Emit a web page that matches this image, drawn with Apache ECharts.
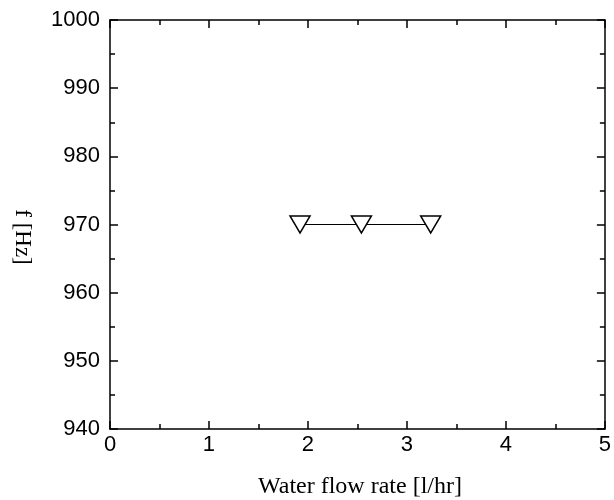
<!DOCTYPE html>
<html>
<head>
<meta charset="utf-8">
<script src="https://cdn.jsdelivr.net/npm/echarts@6/dist/echarts.min.js"></script>
<style>html,body{margin:0;padding:0;background:#fff;}#c{width:614px;height:500px;}</style>
</head>
<body>
<div id="c"></div>
<script>
var flowRate = [1.92, 2.54, 3.24];
var frequency = [970, 970, 970];
var xTitle = 'Water flow rate [l/hr]';
var yTitle = 'f [Hz]';

var chart = echarts.init(document.getElementById('c'), null, {renderer: 'canvas'});
var pts = flowRate.map(function (x, i) { return [x, frequency[i]]; });
var axisCommon = {
  axisLine: {show: true, onZero: false, lineStyle: {color: '#000', width: 1.5}},
  axisTick: {show: true, inside: true, length: 8, lineStyle: {color: '#000', width: 1.5}},
  minorTick: {show: true, splitNumber: 2, length: 5, lineStyle: {color: '#000', width: 1.5}},
  splitLine: {show: false}
};
chart.setOption({
  animation: false,
  backgroundColor: '#fff',
  grid: {left: 110, right: 4, top: 20, bottom: 71},
  xAxis: [
    Object.assign({type: 'value', min: 0, max: 5, interval: 1, position: 'bottom',
      axisLabel: {color: '#000', fontFamily: 'Liberation Sans, Arial', fontSize: 22, margin: 5}}, axisCommon),
    Object.assign({type: 'value', min: 0, max: 5, interval: 1, position: 'top',
      axisLabel: {show: false}}, axisCommon)
  ],
  yAxis: [
    Object.assign({type: 'value', min: 940, max: 1000, interval: 10, position: 'left',
      axisLabel: {color: '#000', fontFamily: 'Liberation Sans, Arial', fontSize: 22, margin: 10,
        formatter: function (v) { return String(v); }}}, axisCommon),
    Object.assign({type: 'value', min: 940, max: 1000, interval: 10, position: 'right',
      axisLabel: {show: false}}, axisCommon)
  ],
  graphic: [
    {type: 'text', x: 360, y: 487,
      style: {text: xTitle, fill: '#000', font: '24px "Liberation Serif", "Times New Roman", serif',
        align: 'center', verticalAlign: 'middle'}},
    {type: 'text', x: 22, y: 237, rotation: -Math.PI / 2,
      style: {text: yTitle, fill: '#000', font: '23px "Liberation Serif", "Times New Roman", serif',
        align: 'center', verticalAlign: 'middle'}}
  ],
  series: [{
    type: 'line',
    data: pts,
    xAxisIndex: 0, yAxisIndex: 0,
    symbol: 'path://M0,0 L20,0 L10,17 Z',
    symbolSize: [20, 17],
    showAllSymbol: true,
    lineStyle: {color: '#000', width: 1.2},
    itemStyle: {color: '#fff', borderColor: '#000', borderWidth: 1.5},
    z: 5
  }]
});
</script>
</body>
</html>
